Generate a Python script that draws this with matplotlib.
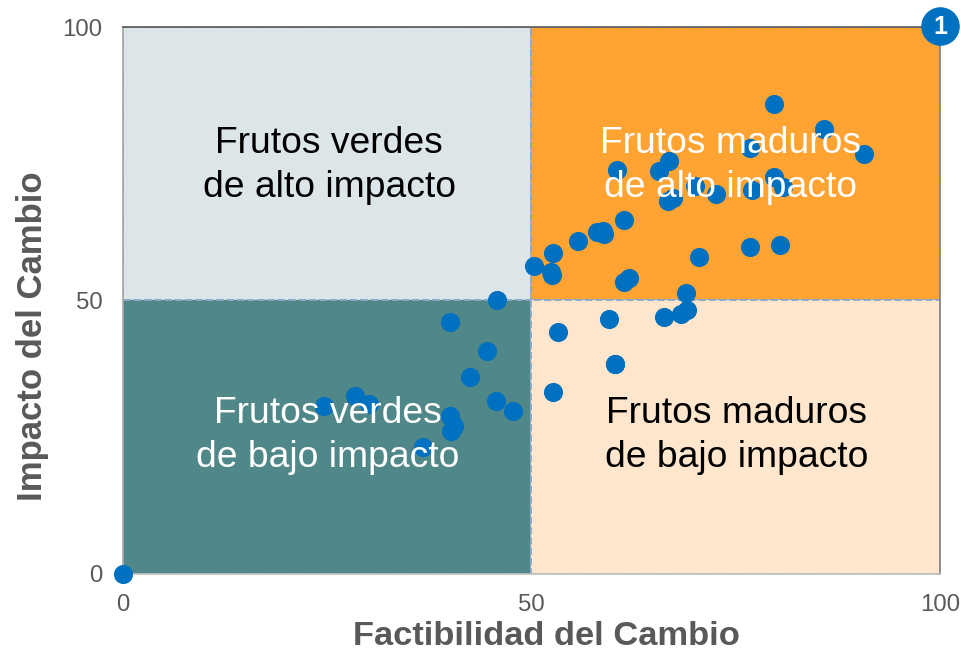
import matplotlib
matplotlib.use('Agg')
import matplotlib.pyplot as plt
from matplotlib.patches import Rectangle

plt.rcParams['font.family'] = ['Liberation Sans', 'DejaVu Sans']

# points
factibilidad = [79.7, 85.8, 90.7, 76.7, 60.5, 66.9, 65.6, 70.0, 72.6, 79.7, 77.0, 80.8, 66.7, 67.3, 61.3, 58.8, 58.1,
                58.9, 55.7, 52.7, 50.3, 52.4, 52.5, 70.5, 76.8, 80.4, 61.9, 61.3, 68.9, 69.1, 68.3, 66.2, 59.5, 53.3,
                45.8, 40.1, 44.6, 42.5, 45.7, 47.8, 40.1, 40.6, 40.2, 36.8, 28.5, 30.2, 24.7, 60.2, 60.3, 52.7, 0]
impacto = [86.0, 81.3, 76.8, 77.8, 73.8, 75.4, 73.7, 70.9, 69.5, 72.6, 70.2, 70.7, 68.2, 68.7, 64.6, 62.7, 62.4,
           62.1, 60.8, 58.7, 56.3, 55.2, 54.6, 58.0, 59.7, 60.2, 54.1, 53.3, 51.3, 48.3, 47.4, 47.0, 46.5, 44.2,
           50.0, 46.0, 40.8, 36.0, 31.6, 29.7, 28.8, 27.0, 26.1, 23.1, 32.4, 31.1, 30.6, 38.3, 38.4, 33.3, 0]

ticks = [0, 50, 100]
cuadrantes = [
    (0, 50, '#DCE6E9', 'Frutos verdes\nde alto impacto', 'black', 25.3, 74.7),
    (50, 50, '#FFA333', 'Frutos maduros\nde alto impacto', 'white', 74.4, 74.7),
    (0, 0, '#508789', 'Frutos verdes\nde bajo impacto', 'white', 25.1, 25.3),
    (50, 0, '#FFE6CC', 'Frutos maduros\nde bajo impacto', 'black', 75.1, 25.3),
]

fig = plt.figure(figsize=(9.61, 6.53), dpi=100)
ax = fig.add_axes([122.5 / 961, 1 - 573.5 / 653, 817.5 / 961, 546.5 / 653])

for x0, y0, color, label, text_color, tx, ty in cuadrantes:
    ax.add_patch(Rectangle((x0, y0), 50, 50, facecolor=color, edgecolor='#8FA8C8', linewidth=1.4, linestyle='--', zorder=1))

ax.scatter(factibilidad, impacto, s=190, color='#0070C0', linewidths=0, zorder=3, clip_on=False)

# labels sit on top of the points
for x0, y0, color, label, text_color, tx, ty in cuadrantes:
    ax.text(tx, ty, label, color=text_color, fontsize=26.8, ha='center', va='center', linespacing=1.33, zorder=4)

ax.set_xlim(0, 100)
ax.set_ylim(0, 100)
ax.set_xticks(ticks)
ax.set_yticks(ticks)
ax.tick_params(length=0, labelsize=17.3, labelcolor='#595959')
ax.tick_params(axis='x', pad=14.5)
ax.tick_params(axis='y', pad=14.5)
ax.set_xlabel('Factibilidad del Cambio', fontsize=24.8, fontweight='bold', color='#595959', va='center')
ax.set_ylabel('Impacto del Cambio', fontsize=25, fontweight='bold', color='#595959', va='center')
ax.xaxis.set_label_coords(0.518, -0.116)
ax.yaxis.set_label_coords(-0.110, 0.4346)

ax.spines['top'].set_color('#595959')
ax.spines['right'].set_color('#7F7F7F')
ax.spines['left'].set_color('#A6A6A6')
ax.spines['bottom'].set_color('#BFBFBF')
for s in ax.spines.values():
    s.set_linewidth(1.2)
    s.set_zorder(2)

# numbered badge in the corner
ax.scatter([100], [100.2], s=770, color='#0070C0', linewidths=0, zorder=5, clip_on=False)
ax.text(100, 100, '1', color='white', fontsize=18, fontweight='bold', ha='center', va='center', zorder=6)

plt.savefig('out.png', dpi=100)
